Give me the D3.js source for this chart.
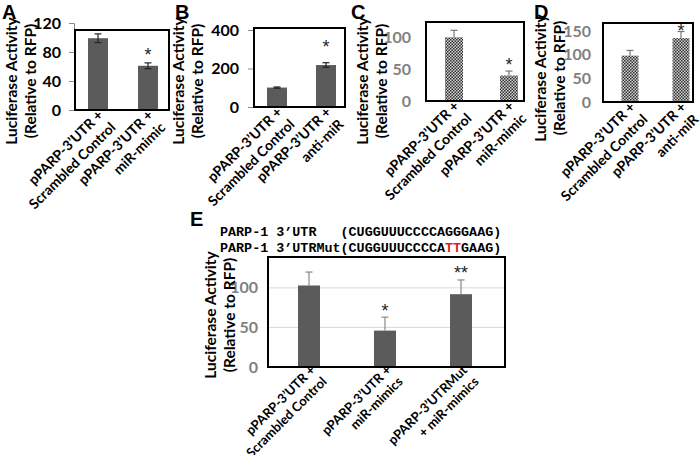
<!DOCTYPE html>
<html><head><meta charset="utf-8">
<script src="https://cdnjs.cloudflare.com/ajax/libs/d3/7.8.5/d3.min.js"></script>
<style>body{margin:0;background:#fff}svg{display:block}</style>
</head><body><svg id="c" width="700" height="455"></svg>
<script>
// ---- data ----
const catsA = [["pPARP-3’UTR +","Scrambled Control"],["pPARP-3’UTR +","miR-mimic"]];
const valsA = [99, 61];
const errsA = [6, 4];
const sigA = ["", "*"];
const ticksA = [0, 40, 80, 120];

const catsB = [["pPARP-3’UTR +","Scrambled Control"],["pPARP-3’UTR +","anti-miR"]];
const valsB = [101, 218];
const errsB = [3, 12];
const sigB = ["", "*"];
const ticksB = [0, 200, 400];

const catsC = [["pPARP-3’UTR +","Scrambled Control"],["pPARP-3’UTR +","miR-mimic"]];
const valsC = [100, 40];
const errsC = [11, 7];
const sigC = ["", "*"];
const ticksC = [0, 50, 100];

const catsD = [["pPARP-3’UTR +","Scrambled Control"],["pPARP-3’UTR +","anti-miR"]];
const valsD = [98, 135];
const errsD = [11, 14];
const sigD = ["", "*"];
const ticksD = [0, 50, 100, 150];

const catsE = [["pPARP-3’UTR +","Scrambled Control"],["pPARP-3’UTR +","miR-mimics"],["pPARP-3’UTRMut","+ miR-mimics"]];
const valsE = [103, 46, 92];
const errsE = [17, 17, 18];
const sigE = ["", "*", "**"];
const ticksE = [0, 50, 100];
const seqWT = ["PARP-1 3’UTR   (CUGGUUUCCCCAGGGAAG)"];
const seqMut = ["PARP-1 3’UTRMut(CUGGUUUCCCCA", "TT", "GAAG)"];

const yTitle = ["Luciferase Activity", "(Relative to RFP)"];

// ---- drawing ----
const svg = d3.select("#c");
svg.append("rect").attr("width",700).attr("height",455).attr("fill","#fff");
const defs = svg.append("defs");
const pat = defs.append("pattern").attr("id","chk").attr("patternUnits","userSpaceOnUse")
  .attr("width",3).attr("height",3);
pat.append("rect").attr("width",3).attr("height",3).attr("fill","#cfcfcf");
pat.append("rect").attr("width",1.5).attr("height",1.5).attr("fill","#333");
pat.append("rect").attr("x",1.5).attr("y",1.5).attr("width",1.5).attr("height",1.5).attr("fill","#333");

const FONT = "Lato, 'Open Sans', sans-serif";

function panel(o) {
  const g = svg.append("g");
  g.append("text").attr("x",o.letter[0]).attr("y",o.letter[1]).text(o.name)
    .attr("font-family","'Liberation Sans', Arial, sans-serif").attr("font-weight","bold")
    .attr("font-size",20).attr("fill","#000");
  const y = d3.scaleLinear().domain([0, o.ymax]).range([o.box[3], o.yTop]);
  const x = d3.scalePoint().domain(d3.range(o.vals.length)).range([o.centers[0], o.centers[1]]);
  if (o.grid) {
    g.append("g").selectAll("line").data(o.ticks.filter(t=>t>0)).join("line")
      .attr("x1",o.box[0]).attr("x2",o.box[2]).attr("y1",d=>y(d)).attr("y2",d=>y(d))
      .attr("stroke","#d9d9d9").attr("stroke-width",1);
  }
  const ax = d3.axisLeft(y).tickValues(o.ticks).tickSize(o.axisLine?5:0).tickPadding(o.pad);
  const axg = g.append("g").attr("transform",`translate(${o.axisX},0)`).call(ax);
  axg.select(".domain").attr("stroke", o.axisLine ? "#8c8c8c" : "none");
  axg.selectAll(".tick line").attr("stroke","#8c8c8c");
  axg.selectAll(".tick text").attr("font-family",FONT).attr("font-weight","bold")
    .attr("font-size",16).attr("fill",o.tickColor);
  const bw = o.barW;
  g.append("g").selectAll("rect").data(o.vals).join("rect")
    .attr("x",(d,i)=>x(i)-bw/2).attr("width",bw)
    .attr("y",d=>y(d)).attr("height",d=>o.box[3]-y(d))
    .attr("fill",o.pattern?"url(#chk)":"#5b5b5b");
  const eg = g.append("g").attr("stroke",o.errColor).attr("stroke-width",1.2).attr("fill","none");
  o.vals.forEach((v,i)=>{
    const cx = x(i), e = o.errs[i], lo = o.both ? v - e : v;
    eg.append("line").attr("x1",cx).attr("x2",cx).attr("y1",y(lo)).attr("y2",y(v+e));
    eg.append("line").attr("x1",cx-o.cap).attr("x2",cx+o.cap).attr("y1",y(v+e)).attr("y2",y(v+e));
    if (o.both) eg.append("line").attr("x1",cx-o.cap).attr("x2",cx+o.cap).attr("y1",y(lo)).attr("y2",y(lo));
  });
  g.append("g").attr("opacity",0.99).selectAll("text").data(o.sig).join("text")
    .attr("x",(d,i)=>x(i)).attr("y",(d,i)=>y(o.vals[i]+o.errs[i]) - o.sigGap)
    .attr("text-anchor","middle").attr("font-family","'Liberation Sans', sans-serif").attr("font-size",18)
    .attr("fill","#222").attr("dy","0.75em").text(d=>d);
  g.append("rect").attr("x",o.box[0]).attr("y",o.box[1])
    .attr("width",o.box[2]-o.box[0]).attr("height",o.box[3]-o.box[1])
    .attr("fill","none").attr("stroke","#000").attr("stroke-width",2);
  const yt = g.append("text").attr("transform",`translate(${o.titleX},${o.titleY}) rotate(-90)`)
    .attr("text-anchor","middle").attr("font-family",FONT).attr("font-weight","bold")
    .attr("font-size",15.5).attr("fill","#000");
  yTitle.forEach((t,i)=>yt.append("tspan").attr("x",0).attr("dy",i?"1.2em":0).text(t));
  o.cats.forEach((c,i)=>{
    const t = g.append("text").attr("transform",`translate(${x(i)+o.lblDx},${o.box[3]+o.lblDy}) rotate(-45)`)
      .attr("text-anchor","end").attr("font-family",FONT).attr("font-weight","bold")
      .attr("font-size",o.lblSize).attr("fill","#000");
    c.forEach((s,k)=>t.append("tspan").attr("x",0).attr("dy",k?"1.25em":0).text(s));
  });
}

const base = {barW:20, cap:3.5, lblDx:6, lblDy:6, lblSize:14, titleY:81};
panel(Object.assign({}, base, {name:"A", letter:[2,19], box:[75,30,169,110], ymax:120, yTop:23,
  ticks:ticksA, vals:valsA, errs:errsA, sig:sigA, cats:catsA, centers:[98,148],
  axisLine:true, axisX:74, pad:8, tickColor:"#000", errColor:"#222", both:true, titleX:17, sigGap:15}));
panel(Object.assign({}, base, {name:"B", letter:[175,19], box:[254,28,345,107], ymax:400, yTop:30,
  ticks:ticksB, vals:valsB, errs:errsB, sig:sigB, cats:catsB, centers:[277,326],
  axisLine:true, axisX:253, pad:9, tickColor:"#000", errColor:"#222", both:true, titleX:184, sigGap:23}));
panel(Object.assign({}, base, {name:"C", letter:[351,19], box:[426,22,524,101], ymax:124, yTop:22,
  ticks:ticksC, vals:valsC, errs:errsC, sig:sigC, cats:catsC, centers:[454,509], pattern:true, barW:18,
  axisLine:false, axisX:426, pad:15, tickColor:"#808080", errColor:"#777", both:false, titleX:368, sigGap:14}));
panel(Object.assign({}, base, {name:"D", letter:[534,19], box:[603,23,693,102], ymax:167, yTop:23,
  ticks:ticksD, vals:valsD, errs:errsD, sig:sigD, cats:catsD, centers:[630,681], pattern:true, barW:17,
  axisLine:false, axisX:603, pad:12, tickColor:"#808080", errColor:"#777", both:false, titleX:546, titleY:78, sigGap:8}));
panel(Object.assign({}, base, {name:"E", letter:[190,226], box:[268,257,505,367], ymax:139, yTop:257,
  ticks:ticksE, vals:valsE, errs:errsE, sig:sigE, cats:catsE, centers:[309,461], barW:22,
  axisLine:false, axisX:268, pad:10, tickColor:"#808080", errColor:"#888", both:false,
  titleX:216, titleY:315, grid:true, sigGap:14, lblDx:7, lblDy:4, lblSize:13}));

const seqG = svg.append("g").attr("font-family","'Liberation Mono', 'DejaVu Sans Mono', monospace")
  .attr("font-weight","bold").attr("font-size",13.4).attr("fill","#000");
seqG.append("text").attr("x",220).attr("y",236).style("white-space","pre").text(seqWT[0]);
const t2 = seqG.append("text").attr("x",220).attr("y",252).style("white-space","pre");
seqMut.forEach((s,i)=>t2.append("tspan").attr("fill", i===1 ? "#e02020" : "#000").text(s));
</script></body></html>
